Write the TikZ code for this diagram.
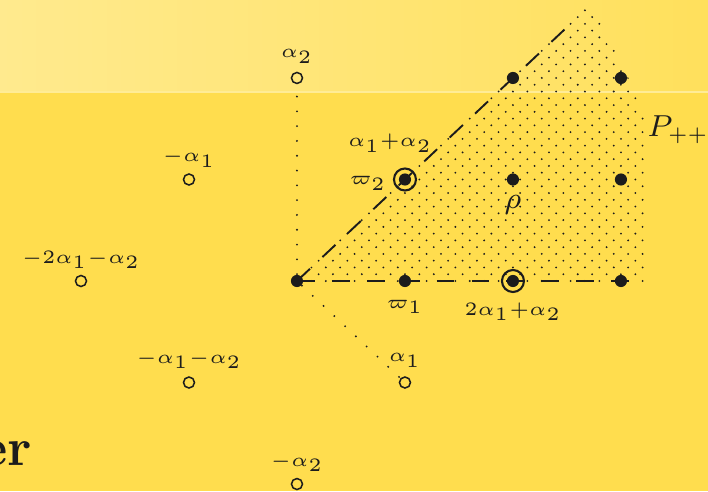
\documentclass[tikz,border=0pt]{standalone}
\usetikzlibrary{calc}
\definecolor{bgyellow}{RGB}{255,221,78}
\definecolor{bandleft}{RGB}{255,234,142}
\definecolor{bandright}{RGB}{255,224,92}
\definecolor{bandline}{RGB}{255,236,150}
\definecolor{ink}{RGB}{28,28,28}
\begin{document}
\begin{tikzpicture}[x=1cm,y=0.94cm,
  wt/.style={circle,fill=ink,inner sep=0pt,minimum size=3.2pt},
  rt/.style={circle,draw=ink,line width=0.4pt,inner sep=0pt,minimum size=2.9pt},
  ringmark/.style={circle,draw=ink,line width=0.55pt,inner sep=0pt,minimum size=5.8pt},
  dashline/.style={ink,line width=0.5pt,dash pattern=on 4.7pt off 4.5pt},
  dotline/.style={ink,line width=0.55pt,line cap=round,dash pattern=on 0pt off 3.9pt},
  lab/.style={text=ink,inner sep=0pt,anchor=base,font=\fontsize{7.5}{9}\selectfont},
  biglab/.style={text=ink,inner sep=0pt,anchor=base,font=\fontsize{7.8}{10}\selectfont},
]
\useasboundingbox (-2.75,-2.069) rectangle (3.806,2.768);
\clip (-2.75,-2.069) rectangle (3.806,2.768);
\fill[bgyellow] (-2.75,-2.069) rectangle (3.806,2.768);
\shade[left color=bandleft,right color=bandright] (-2.75,1.862) rectangle (3.806,2.768);
\draw[bandline,line width=0.3pt] (-2.75,1.862) -- (3.806,1.862);

% dotted region P_{++}
\begin{scope}
  \clip (-0.03,-0.03) -- (3.215,-0.03) -- (3.215,1.62)
        .. controls (3.1,1.95) and (2.95,2.3) .. (2.72,2.72) -- (2.6,2.72) -- cycle;
  \foreach \j in {0,...,41}{
    \pgfmathtruncatemacro\jj{\j+2}
    \foreach \i in {\j,\jj,...,48}{
      \fill[ink] (\i/15,\j/15) circle (0.27pt);
    }
  }
\end{scope}

% dominant weights
\node[wt] (o) at (0,0) {};
\node[wt] (w1) at (1,0) {};
\node[wt] (t) at (2,0) {};
\node[wt] (d30) at (3,0) {};
\node[wt] (w2) at (1,1) {};
\node[wt] (rho) at (2,1) {};
\node[wt] (d31) at (3,1) {};
\node[wt] (d22) at (2,2) {};
\node[wt] (d32) at (3,2) {};
\node[ringmark] (w2r) at (w2) {};
\node[ringmark] (tr) at (t) {};

% roots
\node[rt] (a2) at (0,2) {};
\node[rt] (ma1) at (-1,1) {};
\node[rt] (m2) at (-2,0) {};
\node[rt] (ma1a2) at (-1,-1) {};
\node[rt] (a1) at (1,-1) {};
\node[rt] (ma2) at (0,-2) {};

% lines
\coordinate (hend) at (3.19,0);
\coordinate (dend) at (2.5,2.5);
\draw[dashline] (o.center) -- (hend);
\draw[dashline] (o.center) -- (dend);
\draw[dotline] (o) -- (a2);
\draw[dotline] (o) -- (a1);

% labels
\node[lab] (la2) at ($(a2)+(0,0.2)$) {$\scriptstyle\alpha_2$};
\node[lab] (lma1) at ($(ma1)+(0,0.177)$) {$\scriptstyle-\alpha_1$};
\node[lab] (lm2) at ($(m2)+(0,0.177)$) {$\scriptstyle-2\alpha_1-\alpha_2$};
\node[lab] (lma1a2) at ($(ma1a2)+(0,0.192)$) {$\scriptstyle-\alpha_1-\alpha_2$};
\node[lab] (la1) at ($(a1)+(0,0.207)$) {$\scriptstyle\alpha_1$};
\node[lab] (lma2) at ($(ma2)+(0,0.177)$) {$\scriptstyle-\alpha_2$};
\node[lab] (lsum) at ($(w2)+(-0.139,0.325)$) {$\scriptstyle\alpha_1+\alpha_2$};
\node[lab,anchor=base east] (lw2) at ($(w2)+(-0.167,-0.049)$) {$\scriptstyle\varpi_2$};
\node[lab] (lw1) at ($(w1)+(0,-0.266)$) {$\scriptstyle\varpi_1$};
\node[lab] (lt) at ($(t)+(0,-0.335)$) {$\scriptstyle2\alpha_1+\alpha_2$};
\node[biglab] (lrho) at ($(rho)+(0,-0.29)$) {$\rho$};
\node[biglab,anchor=base west] (lP) at (3.241,1.419) {$P_{++}$};

\node[text=ink,anchor=base east,inner sep=0pt,font=\fontsize{14}{16}\selectfont\bfseries] (er) at (-2.444,-1.813) {er};
\end{tikzpicture}
\end{document}
